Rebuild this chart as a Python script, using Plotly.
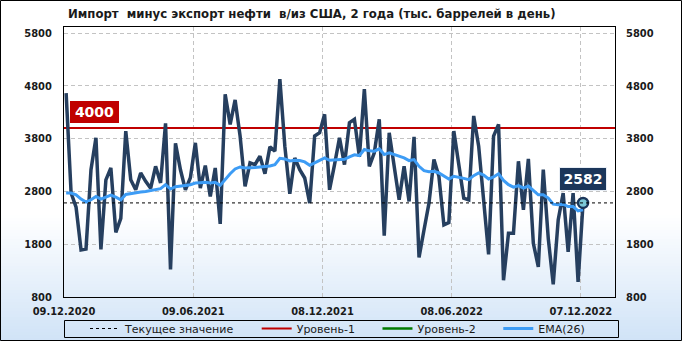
import plotly.graph_objects as go
import pandas as pd

# ---------------- data ----------------
title_text = "Импорт\u00a0 минус экспорт нефти\u00a0 в/из США, 2 года (тыс. баррелей в день)"
start_date = "2020-12-12"

oil_net_imports = [
    4660, 2770, 2500, 1690, 1710, 3210, 3816, 1700, 3020, 3245,
    2025, 2290, 3940, 3020, 2830, 3150, 2990, 2860, 3276, 2960,
    4090, 1320, 3710, 3210, 2830, 3060, 3720, 2863, 3289, 2704,
    3244, 2184, 4641, 4070, 4533, 3848, 2895, 3340, 3308, 3467,
    3136, 3644, 3562, 4927, 3657, 2755, 3435, 3212, 3054, 2578,
    3848, 3911, 4260, 2831, 3308, 3816, 3308, 4102, 4165, 3454,
    4737, 3276, 3530, 4165, 1962, 3911, 3276, 2641, 3276, 2609,
    3835, 1549, 2070, 2578, 3403, 3086, 2165, 2209, 3943, 3308,
    2673, 2641, 4229, 3657, 2641, 1606, 3848, 4070, 1117, 2006,
    2006, 3371, 2451, 3416, 1816, 1371, 3212, 1911, 1041, 2260,
    2768, 1657, 2768, 1085, 2582,
]

ema26 = [
    2768, 2768, 2736, 2654, 2597, 2641, 2705, 2654, 2692, 2730,
    2692, 2641, 2743, 2762, 2768, 2787, 2800, 2813, 2838, 2851,
    2927, 2844, 2889, 2908, 2914, 2927, 2959, 2965, 2971, 2959,
    2971, 2914, 3035, 3136, 3225, 3263, 3244, 3244, 3251, 3263,
    3270, 3282, 3308, 3428, 3416, 3378, 3390, 3384, 3359, 3295,
    3340, 3390, 3435, 3390, 3397, 3416, 3409, 3454, 3492, 3479,
    3594, 3568, 3562, 3606, 3498, 3530, 3498, 3454, 3435, 3384,
    3403, 3276, 3193, 3174, 3181, 3149, 3086, 3035, 3086, 3073,
    3047, 3022, 3098, 3149, 3111, 3035, 3073, 3136, 3009, 2927,
    2882, 2908, 2863, 2901, 2819, 2736, 2736, 2673, 2558, 2546,
    2558, 2514, 2514, 2432, 2450,
]

level1 = 4000
current_value = oil_net_imports[-1]

tick_dates = ["2020-12-09", "2021-06-09", "2021-12-08", "2022-06-08", "2022-12-07"]
tick_labels = ["09.12.2020", "09.06.2021", "08.12.2021", "08.06.2022", "07.12.2022"]
x_range = ["2020-12-09", "2023-01-24"]
y_ticks = [800, 1800, 2800, 3800, 4800, 5800]
y_range = [800, 5914]

legend_names = ["Текущее значение", "Уровень-1", "Уровень-2", "EMA(26)"]

# ---------------- layout constants ----------------
W, H = 682, 341
ML, MR, MT, MB = 64, 67, 27, 44
PW, PH = W - ML - MR, H - MT - MB

def px_x(px):
    return (px - ML) / PW

def px_y(py):
    return (H - MB - py) / PH

NAVY = "#263f5f"
EMA_BLUE = "#3d9cf5"
RED = "#c00000"
GREEN = "#007a00"
TXT = "#1a1a1a"
COND = "DejaVu Sans Condensed, DejaVu Sans"

dates = pd.date_range(start_date, periods=len(oil_net_imports), freq="7D")
pad = "\u00a0" * 5

fig = go.Figure()

fig.add_trace(go.Scatter(
    x=x_range, y=[level1, level1], mode="lines", name=legend_names[1] + pad,
    line=dict(color=RED, width=2), legendrank=2, hoverinfo="skip"))
fig.add_trace(go.Scatter(
    x=[None], y=[None], mode="lines", name=legend_names[2] + pad,
    line=dict(color=GREEN, width=2.5), legendrank=3, hoverinfo="skip"))
fig.add_trace(go.Scatter(
    x=dates, y=oil_net_imports, mode="lines", showlegend=False,
    line=dict(color=NAVY, width=3.5)))
fig.add_trace(go.Scatter(
    x=dates, y=ema26, mode="lines", name=legend_names[3],
    line=dict(color=EMA_BLUE, width=3), legendrank=4))
fig.add_trace(go.Scatter(
    x=x_range, y=[current_value, current_value], mode="lines",
    name=legend_names[0] + pad, yaxis="y2",
    line=dict(color="black", width=1, dash="3px,3px"), legendrank=1,
    hoverinfo="skip"))
fig.add_trace(go.Scatter(
    x=[dates[-1]], y=[current_value], mode="markers", showlegend=False,
    marker=dict(size=10, color="#7cc8d6", line=dict(color="#1b365a", width=2.5))))

# gradient background bands
shapes = []
g_top, g_bot = 215, H
n = 42
c_top = (255, 255, 255)
c_bot = (208, 227, 247)
for k in range(n):
    y0 = g_top + (g_bot - g_top) * k / n
    y1 = g_top + (g_bot - g_top) * (k + 1) / n + 0.6
    t = (k + 0.5) / n
    col = tuple(round(c_top[j] + (c_bot[j] - c_top[j]) * t) for j in range(3))
    shapes.append(dict(type="rect", xref="paper", yref="paper", layer="below",
                       x0=px_x(0), x1=px_x(W), y0=px_y(min(y1, H)), y1=px_y(y0),
                       line=dict(width=0), fillcolor="rgb(%d,%d,%d)" % col))
# figure border
shapes.append(dict(type="rect", xref="paper", yref="paper", layer="above",
                   x0=px_x(0.5), x1=px_x(W - 0.5), y0=px_y(H - 0.5), y1=px_y(0.5),
                   line=dict(color="black", width=1), fillcolor="rgba(0,0,0,0)"))
# legend frame
shapes.append(dict(type="rect", xref="paper", yref="paper", layer="above",
                   x0=px_x(64.5), x1=px_x(618.5), y0=px_y(337.5), y1=px_y(320.5),
                   line=dict(color="black", width=1), fillcolor="rgba(0,0,0,0)"))

tick_font = dict(family=COND, size=11, color=TXT, weight="bold")
label_font = dict(family="DejaVu Sans", size=14, color="white", weight="bold")

fig.update_layout(
    width=W, height=H,
    margin=dict(l=ML, r=MR, t=MT, b=MB, pad=0, autoexpand=False),
    paper_bgcolor="white",
    plot_bgcolor="rgba(0,0,0,0)",
    showlegend=True,
    title=dict(text=title_text, xref="container", yref="container",
               x=68 / W, xanchor="left", y=1 - 13 / H, yanchor="middle",
               font=dict(family=COND, size=13, color=TXT, weight="bold")),
    xaxis=dict(type="date", range=x_range, tickvals=tick_dates, ticktext=tick_labels,
               tickfont=tick_font, showgrid=True, gridcolor="#c3c3c3", griddash="4px,3px",
               gridwidth=1, showline=True, mirror=True, linecolor="black", linewidth=1,
               ticks="", ticklabelstandoff=4, zeroline=False, fixedrange=True),
    yaxis=dict(range=y_range, tickvals=y_ticks, tickfont=tick_font, showgrid=True,
               gridcolor="#c3c3c3", griddash="4px,3px", gridwidth=1, showline=True,
               mirror=True, linecolor="black", linewidth=1, ticks="",
               ticklabelstandoff=9, zeroline=False, fixedrange=True),
    yaxis2=dict(range=y_range, tickvals=y_ticks, tickfont=tick_font, overlaying="y",
                side="right", showgrid=False, showline=False, ticks="",
                ticklabelstandoff=10, zeroline=False, fixedrange=True),
    legend=dict(orientation="h", x=px_x(85), xanchor="left", y=px_y(328.5),
                yanchor="middle", bgcolor="rgba(0,0,0,0)", borderwidth=0,
                font=dict(family="DejaVu Sans", size=11, color=TXT),
                traceorder="normal", itemclick=False, itemdoubleclick=False),
    shapes=shapes,
    annotations=[
        dict(text=str(level1), xref="x", yref="y", x=x_range[0], y=level1,
             xanchor="left", yanchor="bottom", xshift=6, yshift=5, showarrow=False,
             bgcolor=RED, borderpad=2, borderwidth=0, width=45, height=18,
             font=label_font),
        dict(text=str(current_value), xref="x", yref="y", x=dates[-1], y=current_value,
             xanchor="center", yanchor="bottom", yshift=12, showarrow=False,
             bgcolor="#1b365a", bordercolor="#e8eef5", borderwidth=1, borderpad=2,
             width=42, height=18, font=label_font),
    ],
)

fig.write_html("out.html", config={"displayModeBar": False})
